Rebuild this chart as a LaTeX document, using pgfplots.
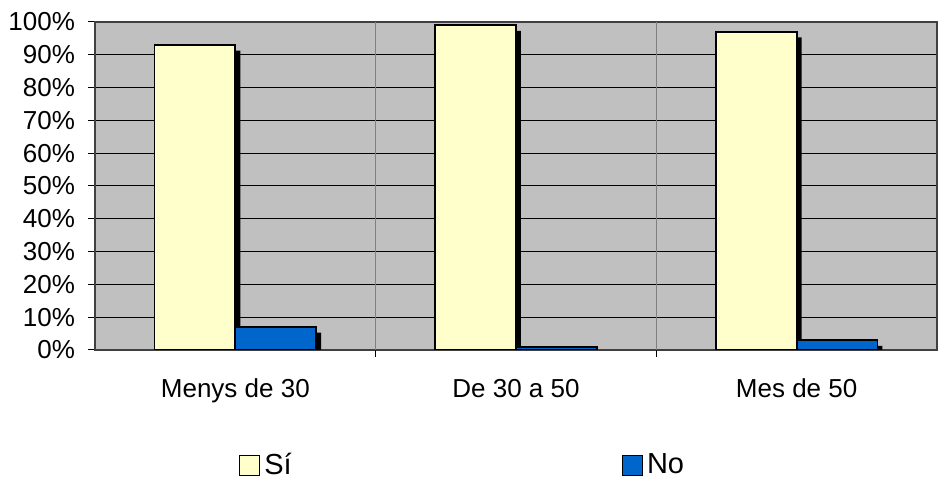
\documentclass[border=0pt]{standalone}
\usepackage{fontspec}
\setmainfont{Liberation Sans}
\usepackage{pgfplots}
\pgfplotsset{compat=1.18}
\definecolor{silverbg}{RGB}{192,192,192}
\definecolor{cream}{RGB}{255,255,204}
\definecolor{xlblue}{RGB}{0,102,204}
\pgfplotstableread{
x si no
0 93 7
1 99 1
2 97 3
}\datatab
\begin{document}
\begin{tikzpicture}
\path[use as bounding box] (-47.5pt,-66pt) rectangle (422pt,175pt);
\begin{axis}[
  at={(0,0)}, anchor=south west,
  scale only axis, width=421pt, height=164pt,
  ybar,
  bar width=0.288,
  xmin=-0.5, xmax=2.5, ymin=0, ymax=100,
  axis background/.style={fill=silverbg},
  axis line style={black!75, line width=0.6pt},
  xtick pos=bottom, ytick pos=left,
  xtick={0,1,2},
  xticklabels={Menys de 30, De 30 a 50, Mes de 50},
  x tick label style={yshift=-7.5pt},
  xtick style={draw=none},
  extra x ticks={0.5,1.5},
  extra x tick labels={},
  extra x tick style={grid=major, major grid style={gray, line width=0.6pt}, xtick style={draw=black, line width=0.6pt}, major tick length=3.5pt, tick align=outside},
  ytick={0,10,...,100},
  yticklabels={0\%,10\%,20\%,30\%,40\%,50\%,60\%,70\%,80\%,90\%,100\%},
  ymajorgrids, major grid style={black, line width=0.5pt},
  ytick style={black, line width=0.5pt},
  tick align=outside, major tick length=3.5pt,
  y tick label style={xshift=-3pt},
  tick label style={font=\fontsize{13}{15}\selectfont},
  legend style={draw=none, fill=none, at={(0.168,-0.352)}, anchor=west,
    inner sep=1pt,
    font=\fontsize{14.5}{17}\selectfont, legend columns=2,
    /tikz/every even column/.append style={column sep=163pt}},
  legend image code/.code={\draw[#1, line width=0.7pt, draw=black] (0pt,-5pt) rectangle (10pt,5pt);},
]
\addplot[fill=black, draw=none, bar shift=-0.144, xshift=2.5pt, yshift=-2.8pt, forget plot] table[x=x,y=si] {\datatab};
\addplot[fill=black, draw=none, bar shift=0.144, xshift=2.5pt, yshift=-2.8pt, forget plot] table[x=x,y=no] {\datatab};
\addplot[fill=cream, draw=black, line width=0.9pt, bar shift=-0.144] table[x=x,y=si] {\datatab};
\addplot[fill=xlblue, draw=black, line width=0.9pt, bar shift=0.144] table[x=x,y=no] {\datatab};
\legend{Sí, No}
\end{axis}
\end{tikzpicture}
\end{document}
